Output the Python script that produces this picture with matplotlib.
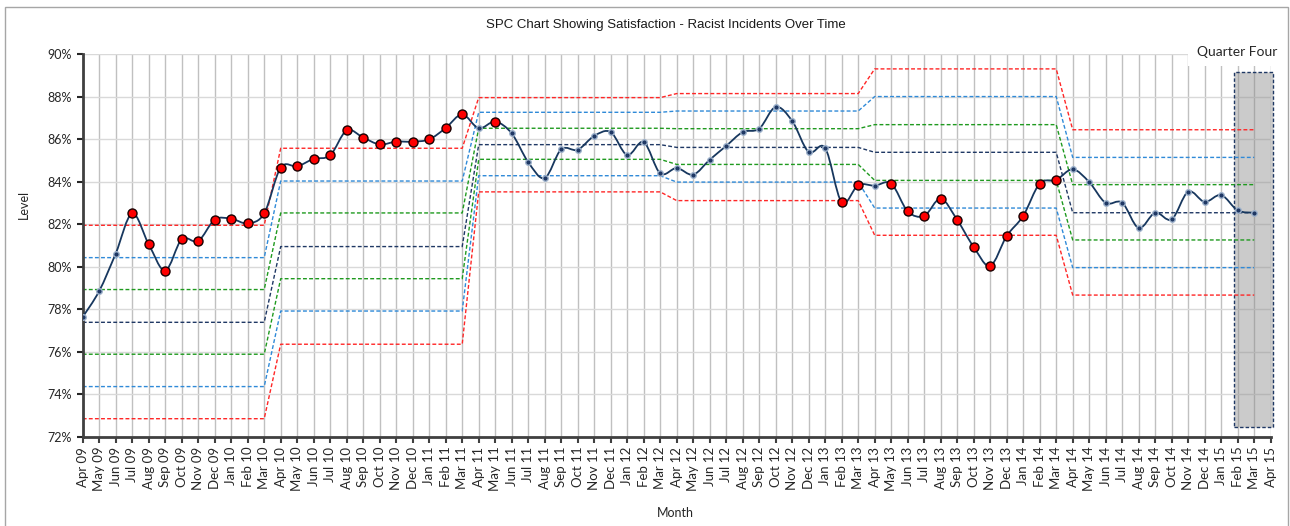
import numpy as np
import matplotlib
matplotlib.use("Agg")
import matplotlib.pyplot as plt
from matplotlib.path import Path
from matplotlib.patches import PathPatch, Rectangle
from matplotlib.ticker import FuncFormatter

# ---------------- data ----------------
months = ["Apr 09", "May 09", "Jun 09", "Jul 09", "Aug 09", "Sep 09", "Oct 09", "Nov 09", "Dec 09",
          "Jan 10", "Feb 10", "Mar 10", "Apr 10", "May 10", "Jun 10", "Jul 10", "Aug 10", "Sep 10",
          "Oct 10", "Nov 10", "Dec 10", "Jan 11", "Feb 11", "Mar 11", "Apr 11", "May 11", "Jun 11",
          "Jul 11", "Aug 11", "Sep 11", "Oct 11", "Nov 11", "Dec 11", "Jan 12", "Feb 12", "Mar 12",
          "Apr 12", "May 12", "Jun 12", "Jul 12", "Aug 12", "Sep 12", "Oct 12", "Nov 12", "Dec 12",
          "Jan 13", "Feb 13", "Mar 13", "Apr 13", "May 13", "Jun 13", "Jul 13", "Aug 13", "Sep 13",
          "Oct 13", "Nov 13", "Dec 13", "Jan 14", "Feb 14", "Mar 14", "Apr 14", "May 14", "Jun 14",
          "Jul 14", "Aug 14", "Sep 14", "Oct 14", "Nov 14", "Dec 14", "Jan 15", "Feb 15", "Mar 15",
          "Apr 15"]

satisfaction = [77.64, 78.86, 80.62, 82.51, 81.06, 79.82, 81.29, 81.21, 82.21, 82.26, 82.04, 82.51,
                84.66, 84.72, 85.07, 85.24, 86.41, 86.07, 85.75, 85.88, 85.88, 85.99, 86.52, 87.16,
                86.51, 86.82, 86.27, 84.92, 84.17, 85.52, 85.50, 86.15, 86.33, 85.25, 85.86, 84.39,
                84.64, 84.33, 85.03, 85.68, 86.33, 86.49, 87.51, 86.85, 85.39, 85.58, 83.03, 83.84,
                83.81, 83.91, 82.61, 82.39, 83.20, 82.20, 80.93, 80.04, 81.45, 82.39, 83.91, 84.08,
                84.58, 83.98, 83.00, 83.01, 81.82, 82.54, 82.23, 83.53, 83.05, 83.37, 82.65, 82.54]

flagged = [0, 0, 0, 1, 1, 1, 1, 1, 1, 1, 1, 1,
           1, 1, 1, 1, 1, 1, 1, 1, 1, 1, 1, 1,
           0, 1, 0, 0, 0, 0, 0, 0, 0, 0, 0, 0,
           0, 0, 0, 0, 0, 0, 0, 0, 0, 0, 1, 1,
           0, 1, 1, 1, 1, 1, 1, 1, 1, 1, 1, 1,
           0, 0, 0, 0, 0, 0, 0, 0, 0, 0, 0, 0]

# control limits per yearly segment (Apr-Mar)
seg_ucl = [81.95, 85.57, 87.95, 88.14, 89.30, 86.44]
seg_upper2 = [80.43, 84.03, 87.26, 87.32, 88.00, 85.14]
seg_upper1 = [78.93, 82.53, 86.51, 86.49, 86.68, 83.86]
seg_mean = [77.39, 80.95, 85.74, 85.61, 85.38, 82.54]
seg_lower1 = [75.89, 79.44, 85.05, 84.81, 84.06, 81.26]
seg_lower2 = [74.37, 77.92, 84.28, 83.98, 82.76, 79.96]
seg_lcl = [72.86, 76.36, 83.52, 83.11, 81.48, 78.67]
months_per_segment = 12

highlight_start = "Feb 15"
highlight_label = "Quarter Four"
y_ticks = [72, 74, 76, 78, 80, 82, 84, 86, 88, 90]

# ---------------- figure ----------------
W, H = 1290, 526
fig = plt.figure(figsize=(W / 100, H / 100), dpi=100)
ax = fig.add_axes([82.7 / W, 1 - 437 / H, (1270.7 - 82.7) / W, (437 - 54) / H])

x = np.arange(len(satisfaction))
y = np.array(satisfaction, dtype=float)

ax.set_xlim(0, len(months) - 1)
ax.set_ylim(y_ticks[0], y_ticks[-1])
ax.set_axisbelow(True)

# grid
ax.set_xticks(np.arange(len(months)))
ax.set_xticklabels(months, rotation=90, family="Lato", fontsize=9.5, color="#262626")
ax.set_yticks(y_ticks)
ax.yaxis.set_major_formatter(FuncFormatter(lambda v, p: f"{v:.0f}%"))
for lab in ax.get_yticklabels():
    lab.set_family("Lato")
ax.tick_params(axis="y", labelsize=9, colors="#262626", length=4, width=1.5, pad=4)
ax.tick_params(axis="x", length=4, width=1.5, colors="#404040", labelcolor="#262626", pad=3)
ax.grid(axis="x", color="#c0c0c0", lw=1)
ax.grid(axis="y", color="#d9d9d9", lw=1)
for s in ["top", "right"]:
    ax.spines[s].set_visible(False)
for s in ["left", "bottom"]:
    ax.spines[s].set_color("#404040")
    ax.spines[s].set_linewidth(2)

# highlight rectangle (last quarter)
hx = months.index(highlight_start)
rect = Rectangle((hx - 0.2, 72.49), (len(months) - 1) - hx + 0.35, 89.17 - 72.49,
                 facecolor=(0.55, 0.55, 0.55, 0.45), edgecolor="#1f3864",
                 linestyle=(0, (2.5, 1.5)), lw=1, zorder=1, clip_on=False)
ax.add_patch(rect)

# control limit lines
def expand(seg):
    return np.repeat(np.array(seg, dtype=float), months_per_segment)

limit_styles = [
    (seg_ucl, "#ff2626"), (seg_upper2, "#2f8ad8"), (seg_upper1, "#1f9a1f"),
    (seg_mean, "#1f3864"), (seg_lower1, "#1f9a1f"), (seg_lower2, "#2f8ad8"),
    (seg_lcl, "#ff2626"),
]
for seg, col in limit_styles:
    ax.plot(x, expand(seg), color=col, lw=1, dashes=(2.8, 1.6), zorder=2)

# smoothed data line (cubic Bezier through the points)
pts = np.column_stack([x, y])
n = len(pts)
verts = [tuple(pts[0])]
codes = [Path.MOVETO]
for i in range(n - 1):
    p0 = pts[max(i - 1, 0)]
    p1 = pts[i]
    p2 = pts[i + 1]
    p3 = pts[min(i + 2, n - 1)]
    c1 = p1 + (p2 - p0) / 6.0
    c2 = p2 - (p3 - p1) / 6.0
    verts += [tuple(c1), tuple(c2), tuple(p2)]
    codes += [Path.CURVE4, Path.CURVE4, Path.CURVE4]
ax.add_patch(PathPatch(Path(verts, codes), facecolor="none", edgecolor="#17375e",
                       lw=1.3, zorder=3))

flag = np.array(flagged, dtype=bool)
ax.plot(x[~flag], y[~flag], "o", ms=4, mfc="#1f3864", mec="#9fb3cc", mew=1, zorder=4)
ax.plot(x[flag], y[flag], "o", ms=6.5, mfc="#ff0000", mec="#1a0000", mew=1, zorder=5)

# texts
fig.text(666 / W, 1 - 25 / H, "SPC Chart Showing Satisfaction - Racist Incidents Over Time",
         ha="center", va="center", fontsize=9.5, family="Liberation Sans", color="#1a1a1a")
fig.text(24 / W, 1 - 204 / H, "Level", rotation=90, ha="center", va="center",
         fontsize=9, family="Lato", color="#262626")
fig.text(675 / W, 1 - 513 / H, "Month", ha="center", va="center",
         fontsize=9, family="Lato", color="#262626")
fig.text(1237 / W, 1 - 52 / H, highlight_label, ha="center", va="center",
         fontsize=10, family="Lato", color="#262626",
         bbox=dict(boxstyle="square,pad=0.6", facecolor="white", edgecolor="none"), zorder=10)

# chart border
fig.patches.append(Rectangle((5 / W, -0.02), (1287.5 - 5) / W, 1 - 7 / H + 0.02,
                             transform=fig.transFigure, fill=False,
                             edgecolor="#a6a6a6", lw=1))

fig.savefig("out.png", dpi=100)
